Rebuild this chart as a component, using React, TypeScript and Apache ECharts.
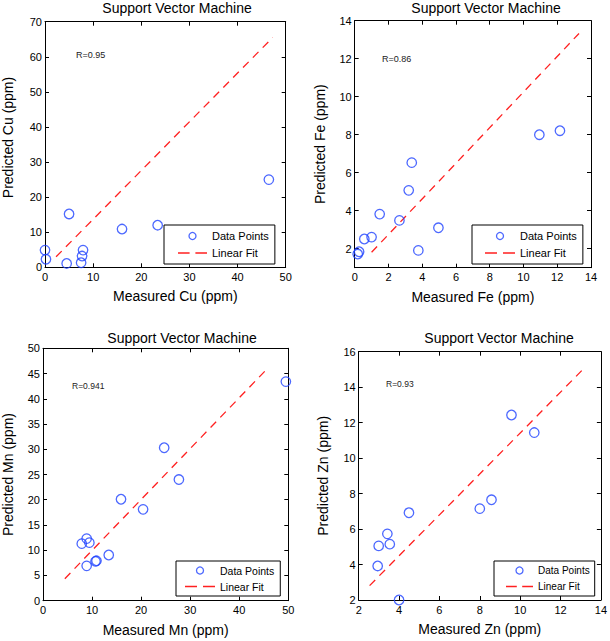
import React, { useEffect, useRef } from "react";
import * as echarts from "echarts";

const FONT = "'Liberation Sans', Arial, Helvetica, sans-serif";
const TITLE = "Support Vector Machine";
const LEGEND_NAMES = ["Data Points", "Linear Fit"];

// ---- Cu ----
const cuMeasured = [0, 0.2, 4.5, 5.0, 7.5, 7.7, 7.9, 16.0, 23.4, 46.5];
const cuPredicted = [4.9, 2.3, 1.1, 15.2, 1.3, 3.2, 4.9, 10.9, 12.0, 25.0];
const cuFitX = [2.3, 47.3];
const cuFitY = [3.0, 65.5];
const cuXTicks = [0, 10, 20, 30, 40, 50];
const cuYTicks = [0, 10, 20, 30, 40, 50, 60, 70];

// ---- Fe ----
const feMeasured = [0.18, 0.26, 0.57, 1.0, 1.48, 2.65, 3.2, 3.38, 3.77, 4.96, 10.94, 12.16];
const fePredicted = [1.72, 1.84, 2.51, 2.61, 3.82, 3.49, 5.07, 6.53, 1.91, 3.1, 8.0, 8.21];
const feFitX = [1.0, 13.29];
const feFitY = [1.81, 13.33];
const feXTicks = [0, 2, 4, 6, 8, 10, 12, 14];
const feYTicks = [2, 4, 6, 8, 10, 12, 14];

// ---- Mn ----
const mnMeasured = [7.9, 8.9, 9.45, 8.9, 10.7, 10.9, 13.4, 15.9, 20.4, 24.7, 27.7, 49.5];
const mnPredicted = [11.3, 12.3, 11.5, 6.9, 7.8, 7.9, 9.05, 20.1, 18.1, 30.3, 24.0, 43.4];
const mnFitX = [4.45, 45.75];
const mnFitY = [4.36, 46.0];
const mnXTicks = [0, 10, 20, 30, 40, 50];
const mnYTicks = [0, 5, 10, 15, 20, 25, 30, 35, 40, 45, 50];

// ---- Zn ----
const znMeasured = [2.94, 2.99, 3.42, 3.54, 4.0, 4.49, 8.0, 8.58, 9.57, 10.7];
const znPredicted = [3.92, 5.05, 5.73, 5.15, 2.0, 6.92, 7.15, 7.65, 12.43, 11.44];
const znFitX = [2.54, 13.1];
const znFitY = [2.81, 14.99];
const znXTicks = [2, 4, 6, 8, 10, 12, 14];
const znYTicks = [2, 4, 6, 8, 10, 12, 14, 16];

const rLabels = ["R=0.95", "R=0.86", "R=0.941", "R=0.93"];

const zip = (a: number[], b: number[]) => a.map((v, i) => [v, b[i]]);

const panels = [
  {
    grid: { left: 44, top: 21.7, width: 241.7, height: 245.6 },
    xr: [0, 50], yr: [0, 70], xTicks: cuXTicks, yTicks: cuYTicks,
    xName: "Measured Cu (ppm)", yName: "Predicted Cu (ppm)",
    meas: cuMeasured, pred: cuPredicted, fitX: cuFitX, fitY: cuFitY,
    r: rLabels[0], rPos: [76, 54.5], rSize: 9, titlePos: [177, 8],
    xNamePad: [0, 0, 0, 20], yNamePad: [0, 0, 0, 14], yNameGap: 30,
    legend: { left: 164, top: 225, padding: [4, 6, 4, 14], gap: 3, iw: 29, fs: 11, lh: 14 },
  },
  {
    grid: { left: 354.7, top: 20.7, width: 236.3, height: 247 },
    xr: [0, 14], yr: [1, 14], xTicks: feXTicks, yTicks: feYTicks,
    xName: "Measured Fe (ppm)", yName: "Predicted Fe (ppm)",
    meas: feMeasured, pred: fePredicted, fitX: feFitX, fitY: feFitY,
    r: rLabels[1], rPos: [382, 58.7], rSize: 9, titlePos: [486, 8],
    xNamePad: [0, 0, 0, 0], yNamePad: [0, 0, 0, 0], yNameGap: 28,
    legend: { left: 472, top: 225, padding: [4, 6, 4, 13], gap: 3, iw: 30, fs: 11, lh: 14 },
  },
  {
    grid: { left: 41.3, top: 348.3, width: 247, height: 252.4 },
    xr: [0, 50], yr: [0, 50], xTicks: mnXTicks, yTicks: mnYTicks,
    xName: "Measured Mn (ppm)", yName: "Predicted Mn (ppm)",
    meas: mnMeasured, pred: mnPredicted, fitX: mnFitX, fitY: mnFitY,
    r: rLabels[2], rPos: [72, 385.7], rSize: 8.5, titlePos: [182, 338],
    xNamePad: [0, 0, 0, 0], yNamePad: [0, 0, 0, 0], yNameGap: 28,
    legend: { left: 176, top: 561, padding: [3, 6, 3, 9], gap: 3, iw: 30, fs: 10.5, lh: 13 },
  },
  {
    grid: { left: 358.7, top: 351.7, width: 243, height: 248.3 },
    xr: [2, 14], yr: [2, 16], xTicks: znXTicks, yTicks: znYTicks,
    xName: "Measured Zn (ppm)", yName: "Predicted Zn (ppm)",
    meas: znMeasured, pred: znPredicted, fitX: znFitX, fitY: znFitY,
    r: rLabels[3], rPos: [386, 383.7], rSize: 8.5, titlePos: [499, 338],
    xNamePad: [0, 0, 0, 0], yNamePad: [0, 0, 0, 0], yNameGap: 29,
    legend: { left: 494, top: 561, padding: [3, 5, 3, 12], gap: 3, iw: 27, fs: 10, lh: 13 },
  },
];

const BLUE = "#1f42ff";
const RED = "#ff2020";
const DASH_ICON = "path://M0 0h10v1.3H0z M15 0h10v1.3H15z";

function buildOption() {
  const grid: any[] = [];
  const xAxis: any[] = [];
  const yAxis: any[] = [];
  const series: any[] = [];
  const legend: any[] = [];
  const graphic: any[] = [];

  panels.forEach((p, i) => {
    grid.push({ ...p.grid, show: false, containLabel: false });
    const common = (ticks: number[]) => ({
      type: "value",
      gridIndex: i,
      splitLine: { show: false },
      axisLine: { show: true, onZero: false, lineStyle: { color: "#000", width: 1 } },
      axisTick: { show: true, inside: true, length: 4, customValues: ticks, lineStyle: { color: "#000", width: 1 } },
    });
    xAxis.push({
      ...common(p.xTicks),
      position: "bottom",
      min: p.xr[0], max: p.xr[1],
      axisLabel: { customValues: p.xTicks, margin: 4, fontSize: 11, color: "#000", fontFamily: FONT },
      name: p.xName, nameLocation: "middle", nameGap: 22,
      nameTextStyle: { fontSize: 14, color: "#000", fontFamily: FONT, padding: p.xNamePad },
    });
    xAxis.push({
      ...common(p.xTicks),
      position: "top",
      min: p.xr[0], max: p.xr[1],
      axisLabel: { show: false },
    });
    yAxis.push({
      ...common(p.yTicks),
      position: "left",
      min: p.yr[0], max: p.yr[1],
      axisLabel: { customValues: p.yTicks, margin: 3, fontSize: 11, color: "#000", fontFamily: FONT },
      name: p.yName, nameLocation: "middle", nameGap: p.yNameGap,
      nameTextStyle: { fontSize: 14, color: "#000", fontFamily: FONT, padding: p.yNamePad },
    });
    yAxis.push({
      ...common(p.yTicks),
      position: "right",
      min: p.yr[0], max: p.yr[1],
      axisLabel: { show: false },
    });
    series.push({
      type: "line",
      name: LEGEND_NAMES[1],
      xAxisIndex: 2 * i, yAxisIndex: 2 * i,
      data: zip(p.fitX, p.fitY),
      symbol: "none",
      showSymbol: false,
      color: RED,
      lineStyle: { color: RED, width: 1.3, type: [8, 6] },
      z: 2,
    });
    series.push({
      type: "scatter",
      name: LEGEND_NAMES[0],
      xAxisIndex: 2 * i, yAxisIndex: 2 * i,
      data: zip(p.meas, p.pred),
      symbol: "circle",
      symbolSize: 9.5,
      clip: false,
      color: BLUE,
      itemStyle: { color: "rgba(0,0,0,0)", borderColor: BLUE, borderWidth: 1.3 },
      z: 3,
    });
    legend.push({
      orient: "vertical",
      left: p.legend.left, top: p.legend.top,
      data: [
        { name: LEGEND_NAMES[0], icon: "circle", itemStyle: { color: "rgba(0,0,0,0)", borderColor: BLUE, borderWidth: 1.3 } },
        { name: LEGEND_NAMES[1], icon: DASH_ICON, itemStyle: { color: RED, borderWidth: 0 } },
      ],
      selectedMode: false,
      backgroundColor: "#fff",
      borderColor: "#000", borderWidth: 1, borderRadius: 0,
      padding: p.legend.padding,
      itemGap: p.legend.gap,
      itemWidth: p.legend.iw,
      itemHeight: 7,
      textStyle: { fontSize: p.legend.fs, lineHeight: p.legend.lh, color: "#000", fontFamily: FONT },
    });
    graphic.push({
      type: "text",
      x: p.titlePos[0], y: p.titlePos[1],
      style: { text: TITLE, fontSize: 14, fill: "#000", fontFamily: FONT, align: "center", verticalAlign: "middle" },
    });
    graphic.push({
      type: "text",
      x: p.rPos[0], y: p.rPos[1],
      style: { text: p.r, fontSize: p.rSize, fill: "#222", fontFamily: FONT, align: "left", verticalAlign: "middle" },
    });
  });

  return {
    animation: false,
    backgroundColor: "#fff",
    textStyle: { fontFamily: FONT },
    grid, xAxis, yAxis, series, legend, graphic,
  };
}

export default function App() {
  const ref = useRef<HTMLDivElement>(null);
  useEffect(() => {
    if (!ref.current) return;
    const chart = echarts.init(ref.current, null, { renderer: "svg" });
    chart.setOption(buildOption() as any);
    return () => chart.dispose();
  }, []);
  return (
    <div
      ref={ref}
      style={{ position: "fixed", left: 0, top: 0, width: 610, height: 641, background: "#fff" }}
    />
  );
}
